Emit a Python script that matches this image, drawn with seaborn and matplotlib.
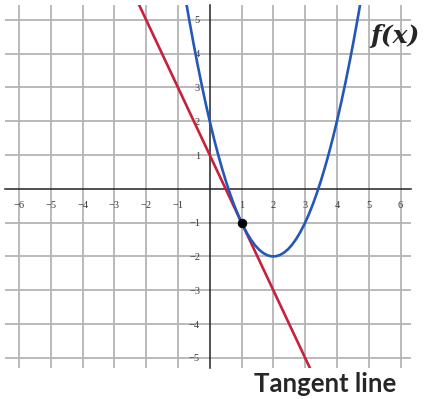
import matplotlib
matplotlib.use("Agg")
import matplotlib.pyplot as plt
import seaborn as sns
import pandas as pd

sns.set_style("white")

# points
curve_x = [0, 1, 2, 3, 4]
curve_y = [2, -1, -2, -1, 2]
tangent_x = [0, 1, 2]
tangent_y = [1, -1, -3]
touch_x = [1]
touch_y = [-1]
x_ticks = [-6, -5, -4, -3, -2, -1, 1, 2, 3, 4, 5, 6]
y_ticks = [-5, -4, -3, -2, -1, 1, 2, 3, 4, 5]

curve = pd.DataFrame({"x": curve_x, "y": curve_y})
tangent = pd.DataFrame({"x": tangent_x, "y": tangent_y})
touch = pd.DataFrame({"x": touch_x, "y": touch_y})

fig = plt.figure(figsize=(4.27, 3.99), dpi=100)
ax = fig.add_axes([5 / 427, 31 / 399, 406 / 427, 363 / 399])
ax.set_xlim(-6.44, 6.33)
ax.set_ylim(-5.30, 5.44)

# grid
for v in x_ticks:
    ax.axvline(v, color="#b4b4b4", lw=1.3, zorder=0)
for v in y_ticks:
    ax.axhline(v, color="#b4b4b4", lw=1.3, zorder=0)

# axes through origin
for s in ["top", "right"]:
    ax.spines[s].set_visible(False)
ax.spines["left"].set_position(("data", 0))
ax.spines["bottom"].set_position(("data", 0))
ax.spines["left"].set_color("#222222")
ax.spines["bottom"].set_color("#222222")
ax.spines["left"].set_linewidth(1.1)
ax.spines["bottom"].set_linewidth(1.1)
ax.set_xticks(x_ticks)
ax.set_yticks(y_ticks)
ax.set_xticklabels([str(t).replace("-", "\u2212") for t in x_ticks])
ax.set_yticklabels([str(t).replace("-", "\u2212") for t in y_ticks])
ax.tick_params(direction="inout", length=6, width=1, color="#222222",
               labelsize=7.5, labelcolor="#3a3a3a")
ax.tick_params(axis="x", pad=6)
ax.tick_params(axis="y", pad=4)
for lab in ax.get_xticklabels() + ax.get_yticklabels():
    lab.set_family("Liberation Serif")

sns.regplot(data=tangent, x="x", y="y", order=1, ci=None, scatter=False,
            truncate=False, ax=ax, line_kws={"color": "#c8203a", "lw": 1.9, "zorder": 3})
sns.regplot(data=curve, x="x", y="y", order=2, ci=None, scatter=False,
            truncate=False, ax=ax, line_kws={"color": "#2458b8", "lw": 1.9, "zorder": 4})
sns.scatterplot(data=touch, x="x", y="y", color="black", s=40, zorder=5, ax=ax,
                edgecolor="black")
ax.set_xlim(-6.44, 6.33)
ax.set_ylim(-5.30, 5.44)
ax.set_xlabel("")
ax.set_ylabel("")

fig.text(395 / 427, 1 - 36 / 399, "f(x)", ha="center", va="center",
         fontsize=18, fontweight="bold", fontstyle="italic", family="DejaVu Serif")
fig.text(325 / 427, 1 - 384 / 399, "Tangent line", ha="center", va="center",
         fontsize=18.5, fontweight="bold", family="Lato")

fig.savefig("out.png", dpi=100)
